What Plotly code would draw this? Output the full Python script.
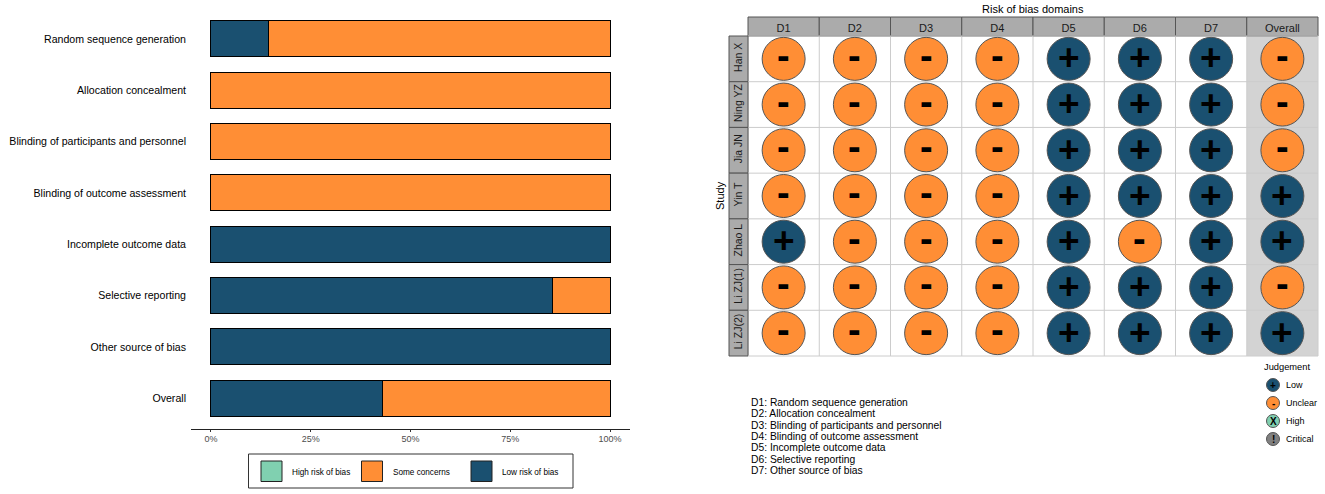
import plotly.graph_objects as go

W, H = 1325, 494

# left panel data
domains = ["Random sequence generation", "Allocation concealment",
           "Blinding of participants and personnel", "Blinding of outcome assessment",
           "Incomplete outcome data", "Selective reporting", "Other source of bias", "Overall"]
low_pct = [14.3, 0, 0, 0, 100, 85.7, 100, 42.9]
some_pct = [85.7, 100, 100, 100, 0, 14.3, 0, 57.1]
pct_ticks = [0, 25, 50, 75, 100]
pct_labels = ["0%", "25%", "50%", "75%", "100%"]
bar_legend = ["High risk of bias", "Some concerns", "Low risk of bias"]

# right panel data
columns = ["D1", "D2", "D3", "D4", "D5", "D6", "D7", "Overall"]
studies = ["Han X", "Ning YZ", "Jia JN", "Yin T", "Zhao L", "Li ZJ(1)", "Li ZJ(2)"]
judgements = {
    "Han X":   ["-", "-", "-", "-", "+", "+", "+", "-"],
    "Ning YZ": ["-", "-", "-", "-", "+", "+", "+", "-"],
    "Jia JN":  ["-", "-", "-", "-", "+", "+", "+", "-"],
    "Yin T":   ["-", "-", "-", "-", "+", "+", "+", "+"],
    "Zhao L":  ["+", "-", "-", "-", "+", "-", "+", "+"],
    "Li ZJ(1)": ["-", "-", "-", "-", "+", "+", "+", "-"],
    "Li ZJ(2)": ["-", "-", "-", "-", "+", "+", "+", "+"],
}
footnotes = ["D1: Random sequence generation", "D2: Allocation concealment",
             "D3: Blinding of participants and personnel", "D4: Blinding of outcome assessment",
             "D5: Incomplete outcome data", "D6: Selective reporting", "D7: Other source of bias"]
judge_names = ["Low", "Unclear", "High", "Critical"]
judge_glyphs = ["+", "-", "X", "!"]

NAVY = "#1A5070"
ORANGE = "#FF8E35"
TEAL = "#80D0B0"
GREY = "#808080"
judge_colors = [NAVY, ORANGE, TEAL, GREY]
FONT = "Liberation Sans"


def px(x):
    return x / W


def py(y):
    return 1 - y / H


def label(x, y, text, size=9, color="black", anchor="left", **kw):
    # annotations carry about 2px of padding on the left
    if anchor == "left":
        x -= 2
    return dict(x=px(x), y=py(y), xref="paper", yref="paper", xanchor=anchor, yanchor="middle",
                showarrow=False, text=text, font=dict(family=FONT, size=size, color=color), **kw)


fig = go.Figure()

# stacked bars
fig.add_trace(go.Bar(y=domains, x=low_pct, orientation="h", marker=dict(color=NAVY, line=dict(color="black", width=1)),
                     width=0.7, name="Low risk of bias", xaxis="x", yaxis="y"))
fig.add_trace(go.Bar(y=domains, x=some_pct, orientation="h", marker=dict(color=ORANGE, line=dict(color="black", width=1)),
                     width=0.7, name="Some concerns", xaxis="x", yaxis="y"))

# traffic light grid
for sign, color in [("+", NAVY), ("-", ORANGE)]:
    xs, ys = [], []
    for s in studies:
        for c, j in zip(columns, judgements[s]):
            if j == sign:
                xs.append(c)
                ys.append(s)
    fig.add_trace(go.Scatter(x=xs, y=ys, mode="markers", xaxis="x2", yaxis="y2",
                             marker=dict(size=43, color=color, line=dict(color="#555555", width=1)),
                             cliponaxis=False, name=sign))

shapes = []
annots = []

# grey background of the overall column and the strips
shapes.append(dict(type="rect", xref="paper", yref="paper", layer="below", x0=px(1247), x1=px(1318), y0=py(356), y1=py(36),
                   fillcolor="#D3D3D3", line=dict(width=0)))
col_w = 570 / 8
row_h = 320 / 7
for i in range(9):
    x = 748 + i * col_w
    shapes.append(dict(type="line", xref="paper", yref="paper", layer="below", x0=px(x), x1=px(x), y0=py(36), y1=py(356),
                       line=dict(color="#CCCCCC", width=1)))
    if i < 8:
        shapes.append(dict(type="rect", xref="paper", yref="paper", layer="below", x0=px(x), x1=px(x + col_w), y0=py(17), y1=py(36),
                           fillcolor="#ABABAB", line=dict(color="#555555", width=1)))
for i in range(8):
    y = 36 + i * row_h
    shapes.append(dict(type="line", xref="paper", yref="paper", layer="below", x0=px(748), x1=px(1318), y0=py(y), y1=py(y),
                       line=dict(color="#CCCCCC", width=1)))
    if i < 7:
        shapes.append(dict(type="rect", xref="paper", yref="paper", layer="below", x0=px(729), x1=px(748), y0=py(y), y1=py(y + row_h),
                           fillcolor="#ABABAB", line=dict(color="#555555", width=1)))

# glyphs in the circles
for s in studies:
    for c, j in zip(columns, judgements[s]):
        annots.append(dict(x=c, y=s, xref="x2", yref="y2", showarrow=False, yanchor="middle", xanchor="center",
                           yshift=1 if j == "+" else 3, text="<b>" + j + "</b>",
                           font=dict(family=FONT, color="black", size=37 if j == "+" else 38)))

# left legend
shapes.append(dict(type="rect", xref="paper", yref="paper", x0=px(248.5), x1=px(573), y0=py(454), y1=py(488),
                   line=dict(color="#333333", width=1)))
for name, col, x0 in zip(bar_legend, [TEAL, ORANGE, NAVY], [261, 361.5, 471]):
    shapes.append(dict(type="rect", xref="paper", yref="paper", x0=px(x0), x1=px(x0 + 21), y0=py(461), y1=py(481.5),
                       fillcolor=col, line=dict(color="#222222", width=1)))
    annots.append(label(x0 + 31, 472, name, size=8.2))

# panel titles
annots.append(label(1033, 9, "Risk of bias domains", size=11, anchor="center"))
annots.append(label(720, 196, "Study", size=11, anchor="center", textangle=-90))

# footnotes
for i, line in enumerate(footnotes):
    annots.append(label(750.5, 402.5 + i * 11.33, line, size=10.3))

# judgement legend
annots.append(label(1264, 367, "Judgement", size=9.3))
for i, (name, glyph, col) in enumerate(zip(judge_names, judge_glyphs, judge_colors)):
    cy = 385 + i * 18
    shapes.append(dict(type="circle", xref="paper", yref="paper", x0=px(1266.5), x1=px(1279.5), y0=py(cy - 6.5), y1=py(cy + 6.5),
                       fillcolor=col, line=dict(color="#555555", width=1)))
    annots.append(label(1273, cy, "<b>" + glyph + "</b>", size=10, anchor="center"))
    annots.append(label(1286, cy, name, size=9))

fig.update_layout(
    width=W, height=H, autosize=False, margin=dict(l=0, r=0, t=0, b=0),
    paper_bgcolor="white", plot_bgcolor="white", barmode="stack", showlegend=False,
    font=dict(family=FONT),
    shapes=shapes, annotations=annots,
    xaxis=dict(domain=[px(191), px(630)], range=[-5, 105], tickvals=pct_ticks, ticktext=pct_labels,
               showgrid=False, zeroline=False, showline=True, linecolor="#222222", linewidth=1,
               ticks="outside", ticklen=2, tickcolor="#333333", tickfont=dict(size=9, color="#4D4D4D", family=FONT),
               ticklabelstandoff=-1, anchor="y"),
    yaxis=dict(domain=[py(429), py(8)], categoryorder="array", categoryarray=domains, autorange=False,
               range=[7.6, -0.6], showgrid=False, zeroline=False, showline=False, ticks="", ticklabelstandoff=4,
               tickfont=dict(size=10.6, color="black", family=FONT), anchor="x"),
    xaxis2=dict(domain=[px(748), px(1318)], type="category", categoryorder="array", categoryarray=columns, range=[-0.5, 7.5],
                side="top", showgrid=False, zeroline=False, ticks="", tickfont=dict(size=11, color="#1A1A1A", family=FONT),
                anchor="y2", ticklabelstandoff=1),
    yaxis2=dict(domain=[py(356), py(36)], type="category", categoryorder="array", categoryarray=studies, range=[6.5, -0.5],
                showgrid=False, zeroline=False, ticks="", tickangle=-90, tickfont=dict(size=10.5, color="#1A1A1A", family=FONT),
                anchor="x2", ticklabelstandoff=3),
)

# the page's default body margin would push the chart 8px in
fig.write_html("out.html", config={"displayModeBar": False},
               post_script="document.body.style.margin='0';document.body.style.overflow='hidden';")
